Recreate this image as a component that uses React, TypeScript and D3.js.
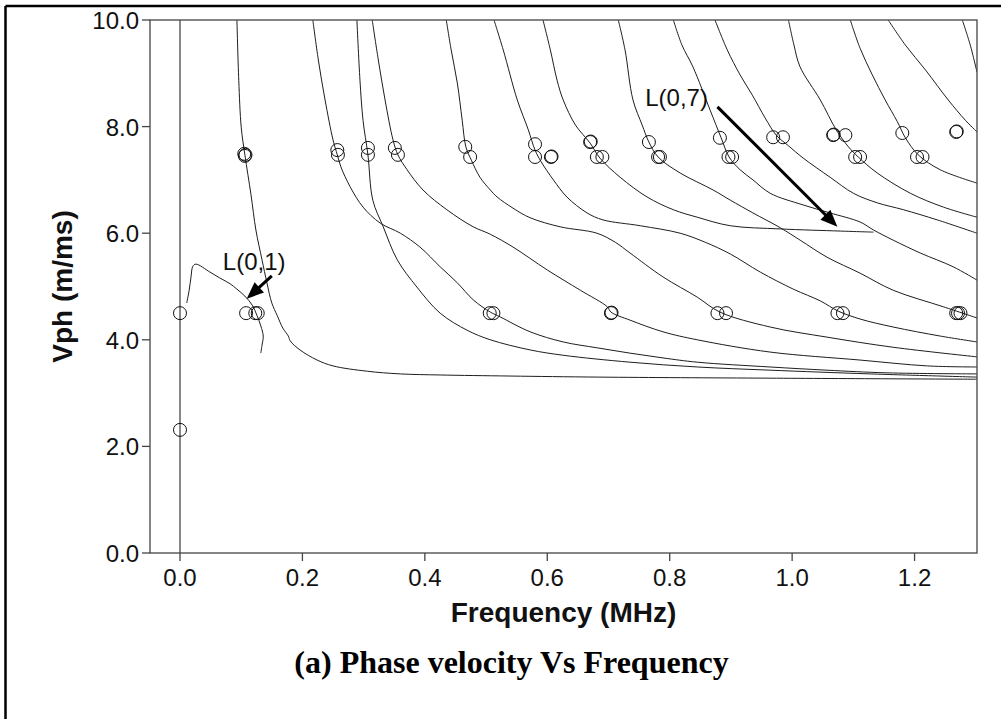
import React from 'react';
import * as d3 from 'd3';

type P = [number, number];

// axis ticks
const xTicks: number[] = [0, 0.2, 0.4, 0.6, 0.8, 1.0, 1.2];
const yTicks: number[] = [0, 2, 4, 6, 8, 10];

// dispersion curves: [frequency MHz, phase velocity m/ms]
const modeZero: P[] = [[0, 0], [0, 10]];
const modeL01: P[] = [[0.011, 4.69], [0.015, 4.93], [0.018, 5.18], [0.021, 5.38], [0.026, 5.42], [0.049, 5.27], [0.065, 5.16], [0.082, 5.05], [0.093, 4.95], [0.106, 4.82], [0.118, 4.65], [0.126, 4.45], [0.132, 4.26], [0.136, 4.07], [0.134, 3.9], [0.132, 3.75]];
const modeC: P[] = [[0.093, 10], [0.096, 8.87], [0.1, 7.99], [0.106, 7.47], [0.116, 6.72], [0.124, 6.06], [0.134, 5.5], [0.142, 5.07], [0.15, 4.69], [0.159, 4.45], [0.168, 4.22], [0.177, 4.07], [0.18, 3.98], [0.196, 3.81], [0.224, 3.62], [0.25, 3.51], [0.306, 3.41], [0.36, 3.36], [0.425, 3.34], [0.539, 3.32], [0.686, 3.3], [0.964, 3.28], [1.302, 3.26]];
const modeD: P[] = [[0.217, 10], [0.226, 9.25], [0.237, 8.5], [0.25, 7.75], [0.257, 7.47], [0.263, 7.24], [0.278, 6.87], [0.299, 6.49], [0.327, 6.19], [0.36, 6.0], [0.392, 5.74], [0.425, 5.37], [0.453, 5.07], [0.479, 4.75], [0.507, 4.52], [0.523, 4.43], [0.572, 4.15], [0.626, 3.96], [0.681, 3.85], [0.735, 3.75], [0.789, 3.66], [0.845, 3.58], [0.964, 3.49], [1.057, 3.43], [1.155, 3.38], [1.302, 3.36]];
const modeE: P[] = [[0.289, 10], [0.294, 8.87], [0.299, 8.12], [0.307, 7.47], [0.315, 6.62], [0.332, 6.12], [0.355, 5.5], [0.387, 4.99], [0.425, 4.5], [0.469, 4.18], [0.507, 4.0], [0.572, 3.81], [0.626, 3.71], [0.735, 3.58], [0.845, 3.49], [0.964, 3.43], [1.128, 3.36], [1.302, 3.3]];
const modeF: P[] = [[0.314, 10], [0.324, 9.25], [0.335, 8.5], [0.348, 7.75], [0.356, 7.47], [0.371, 7.19], [0.397, 6.81], [0.436, 6.44], [0.479, 6.12], [0.507, 5.98], [0.544, 5.74], [0.6, 5.31], [0.654, 4.93], [0.698, 4.62], [0.704, 4.52], [0.735, 4.37], [0.789, 4.15], [0.845, 4.0], [0.964, 3.77], [1.111, 3.62], [1.221, 3.51], [1.302, 3.49]];
const modeG: P[] = [[0.435, 10], [0.443, 9.44], [0.453, 8.82], [0.461, 8.12], [0.467, 7.62], [0.476, 7.37], [0.49, 7.05], [0.507, 6.81], [0.518, 6.68], [0.544, 6.47], [0.572, 6.29], [0.621, 6.12], [0.681, 6.0], [0.711, 5.83], [0.735, 5.63], [0.789, 5.18], [0.845, 4.8], [0.882, 4.52], [0.964, 4.24], [1.057, 4.05], [1.165, 3.86], [1.302, 3.68]];
const modeH: P[] = [[0.513, 10], [0.528, 9.44], [0.551, 8.5], [0.569, 7.94], [0.58, 7.56], [0.59, 7.34], [0.61, 7.0], [0.632, 6.68], [0.665, 6.38], [0.691, 6.25], [0.752, 6.14], [0.817, 6.0], [0.858, 5.83], [0.899, 5.61], [0.948, 5.27], [1.002, 4.95], [1.046, 4.73], [1.075, 4.54], [1.111, 4.39], [1.165, 4.24], [1.242, 4.07], [1.302, 3.96]];
const modeI: P[] = [[0.593, 10], [0.605, 9.44], [0.616, 8.87], [0.626, 8.5], [0.646, 8.03], [0.67, 7.69], [0.686, 7.41], [0.719, 7.05], [0.763, 6.68], [0.806, 6.44], [0.845, 6.3], [0.899, 6.14], [0.981, 6.08], [1.079, 6.04], [1.133, 6.02]];
const modeJ: P[] = [[0.716, 10], [0.727, 9.44], [0.74, 8.5], [0.755, 8.03], [0.766, 7.71], [0.781, 7.43], [0.817, 7.13], [0.871, 6.81], [0.899, 6.62], [0.936, 6.38], [0.981, 6.1], [1.013, 5.87], [1.057, 5.55], [1.111, 5.25], [1.165, 4.93], [1.247, 4.62], [1.302, 4.41]];
const modeK: P[] = [[0.806, 10], [0.82, 9.53], [0.838, 9.12], [0.866, 8.31], [0.884, 7.79], [0.897, 7.43], [0.915, 7.19], [0.936, 7.0], [0.964, 6.75], [1.018, 6.53], [1.062, 6.38], [1.111, 6.21], [1.133, 6.06], [1.165, 5.87], [1.209, 5.63], [1.263, 5.37], [1.302, 5.12]];
const modeL: P[] = [[0.874, 10], [0.894, 9.44], [0.915, 8.97], [0.935, 8.59], [0.956, 8.16], [0.974, 7.84], [0.994, 7.64], [1.018, 7.41], [1.062, 7.05], [1.1, 6.75], [1.139, 6.57], [1.182, 6.44], [1.237, 6.25], [1.302, 6.0]];
const modeM: P[] = [[0.994, 10], [1.003, 9.53], [1.013, 9.12], [1.046, 8.5], [1.072, 7.94], [1.092, 7.62], [1.108, 7.43], [1.139, 7.13], [1.193, 6.75], [1.247, 6.49], [1.302, 6.3]];
const modeN: P[] = [[1.095, 10], [1.111, 9.47], [1.131, 8.97], [1.152, 8.5], [1.172, 8.09], [1.185, 7.79], [1.206, 7.47], [1.242, 7.19], [1.302, 6.94]];
const modeO: P[] = [[1.157, 10], [1.185, 9.53], [1.218, 9.06], [1.255, 8.5], [1.283, 8.12], [1.302, 7.9]];
const modeP: P[] = [[1.278, 10], [1.291, 9.53], [1.302, 9.02]];

const curves: P[][] = [modeZero, modeL01, modeC, modeD, modeE, modeF, modeG, modeH, modeI, modeJ, modeK, modeL, modeM, modeN, modeO, modeP];

// experimental points (open circles)
const pointsLow: P[] = [[0, 4.5], [0, 2.31], [0.108, 4.5], [0.123, 4.5], [0.127, 4.5], [0.506, 4.5], [0.512, 4.5], [0.704, 4.5], [0.705, 4.51], [0.878, 4.5], [0.892, 4.5], [1.074, 4.5], [1.083, 4.5], [1.268, 4.5], [1.271, 4.5], [1.275, 4.5]];
const pointsHigh: P[] = [[0.105, 7.49], [0.106, 7.45], [0.107, 7.47], [0.257, 7.56], [0.258, 7.47], [0.307, 7.6], [0.307, 7.47], [0.351, 7.6], [0.356, 7.47], [0.466, 7.62], [0.474, 7.43], [0.58, 7.67], [0.58, 7.43], [0.606, 7.43], [0.607, 7.44], [0.67, 7.71], [0.671, 7.72], [0.681, 7.43], [0.69, 7.43], [0.766, 7.71], [0.781, 7.43], [0.784, 7.43], [0.882, 7.79], [0.896, 7.43], [0.902, 7.43], [0.969, 7.8], [0.985, 7.8], [1.067, 7.84], [1.068, 7.85], [1.087, 7.84], [1.103, 7.43], [1.111, 7.43], [1.18, 7.88], [1.204, 7.43], [1.213, 7.43], [1.268, 7.9], [1.269, 7.91]];

// annotations: label, text anchor point, arrow start, arrow tip
const annotations = [
  { label: 'L(0,1)', at: [0.07, 5.31] as P, from: [0.15, 5.2] as P, to: [0.109, 4.77] as P },
  { label: 'L(0,7)', at: [0.76, 8.39] as P, from: [0.878, 8.37] as P, to: [1.074, 6.12] as P },
];

const FONT = "'Liberation Sans', Arial, Helvetica, sans-serif";

export default function App() {
  const x = d3.scaleLinear().domain([-0.049, 1.302]).range([150, 977]);
  const y = d3.scaleLinear().domain([0, 10]).range([553, 20]);
  const [x0, x1] = x.range();
  const [y0, y1] = y.range();
  const line = d3
    .line<P>()
    .x((d) => x(d[0]))
    .y((d) => y(d[1]))
    .curve(d3.curveCatmullRom.alpha(0.5));

  const arrow = (a: P, b: P, key: string) => {
    const ax = x(a[0]), ay = y(a[1]), bx = x(b[0]), by = y(b[1]);
    const ang = Math.atan2(by - ay, bx - ax);
    const len = 17, half = 7;
    const baseX = bx - len * Math.cos(ang), baseY = by - len * Math.sin(ang);
    const px = -Math.sin(ang), py = Math.cos(ang);
    const pts = [
      [bx, by],
      [baseX + half * px, baseY + half * py],
      [baseX - half * px, baseY - half * py],
    ];
    return (
      <g key={key}>
        <line x1={ax} y1={ay} x2={baseX + 2 * Math.cos(ang)} y2={baseY + 2 * Math.sin(ang)} stroke="#000" strokeWidth={3} />
        <polygon points={pts.map((p) => p.join(',')).join(' ')} fill="#000" />
      </g>
    );
  };

  return (
    <svg width={1007} height={719} style={{ position: 'absolute', left: 0, top: 0, background: '#fff' }}>
      <rect x={0} y={0} width={1007} height={719} fill="#fff" />
      {/* outer frame */}
      <line x1={5.5} y1={6} x2={1001} y2={6} stroke="#000" strokeWidth={2.5} />
      <line x1={5.5} y1={6} x2={5.5} y2={719} stroke="#000" strokeWidth={2.5} />
      <defs>
        <clipPath id="plotclip">
          <rect x={x0} y={y1} width={x1 - x0} height={y0 - y1} />
        </clipPath>
      </defs>
      <g clipPath="url(#plotclip)">
        {curves.map((c, i) => (
          <path key={i} d={line(c) || ''} fill="none" stroke={i === 0 ? '#555' : '#1e1e1e'} strokeWidth={i === 0 ? 1.4 : 1} />
        ))}
      </g>
      {[...pointsLow, ...pointsHigh].map((p, i) => (
        <circle key={i} cx={x(p[0])} cy={y(p[1])} r={6.5} fill="none" stroke="#111" strokeWidth={1} />
      ))}
      {/* plot frame */}
      <rect x={x0} y={y1} width={x1 - x0} height={y0 - y1} fill="none" stroke="#444" strokeWidth={1.3} />
      {/* y axis ticks */}
      {yTicks.map((t) => (
        <g key={'y' + t}>
          <line x1={x0 - 8} x2={x0} y1={y(t)} y2={y(t)} stroke="#444" strokeWidth={1.3} />
          <text x={x0 - 11} y={y(t) + 9} textAnchor="end" fontFamily={FONT} fontSize={24} fill="#111">
            {d3.format('.1f')(t)}
          </text>
        </g>
      ))}
      {xTicks.map((t) => (
        <g key={'x' + t}>
          <line x1={x(t)} x2={x(t)} y1={y0} y2={y0 + 8} stroke="#444" strokeWidth={1.3} />
          <text x={x(t)} y={586} textAnchor="middle" fontFamily={FONT} fontSize={24} fill="#111">
            {d3.format('.1f')(t)}
          </text>
        </g>
      ))}
      <text x={(x0 + x1) / 2} y={622} textAnchor="middle" fontFamily={FONT} fontWeight="bold" fontSize={28} fill="#111">
        Frequency (MHz)
      </text>
      <text transform={`translate(72,${(y0 + y1) / 2}) rotate(-90)`} textAnchor="middle" fontFamily={FONT} fontWeight="bold" fontSize={28} fill="#111">
        Vph (m/ms)
      </text>
      <text x={511.5} y={673} textAnchor="middle" fontFamily="'Liberation Serif', 'Times New Roman', serif" fontWeight="bold" fontSize={32} fill="#000">
        (a) Phase velocity Vs Frequency
      </text>
      {annotations.map((a, i) => (
        <g key={'a' + i}>
          <text x={x(a.at[0])} y={y(a.at[1])} fontFamily={FONT} fontSize={24} fill="#111">
            {a.label}
          </text>
          {arrow(a.from, a.to, 'ar' + i)}
        </g>
      ))}
    </svg>
  );
}
